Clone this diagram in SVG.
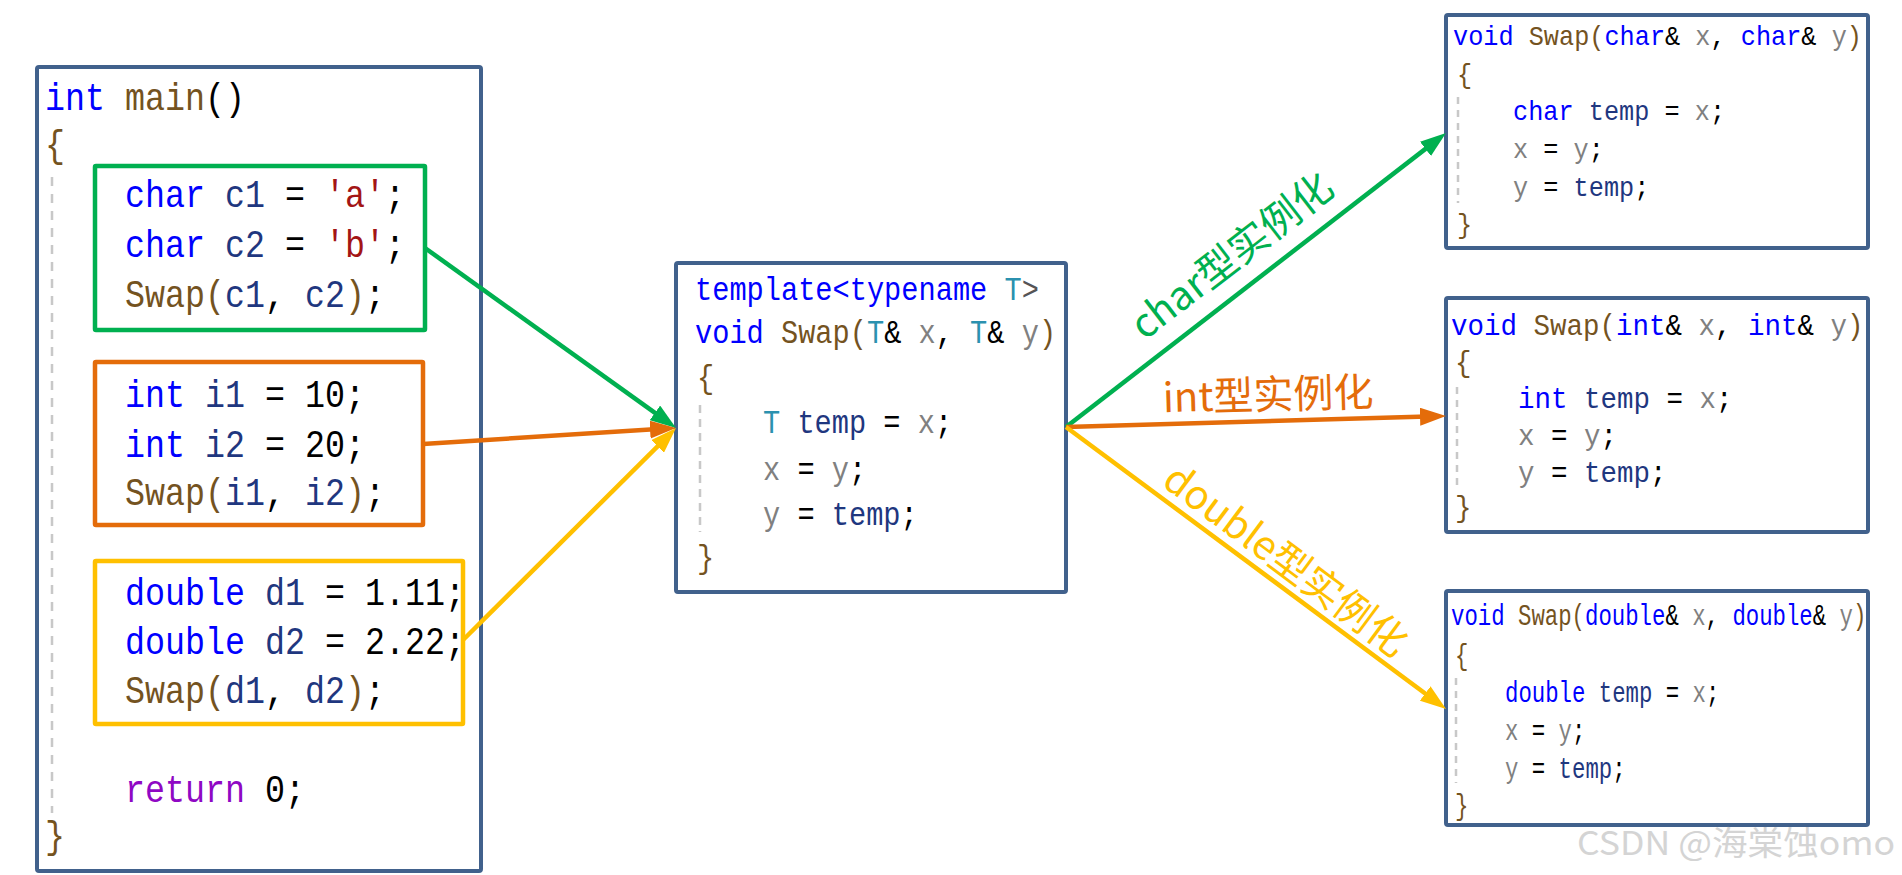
<svg xmlns="http://www.w3.org/2000/svg" width="1902" height="875" viewBox="0 0 1902 875">
<style>
.box{fill:#fff;stroke:#41618c;stroke-width:4}
.code{font-family:"Liberation Mono","DejaVu Sans Mono",monospace;fill:#000;white-space:pre}
.k{fill:#0000ff}
.f{fill:#74531f}
.v{fill:#1f377f}
.p{fill:#808080}
.t{fill:#2b91af}
.s{fill:#a31515}
.r{fill:#8f08c4}
.b{fill:#74531f}
.guide{stroke:#c8c8c8;stroke-width:2.5;fill:none}
.lbl{font-family:"Noto Sans CJK SC","Noto Sans",sans-serif;font-size:40px}
.m{font-size:38px}
.tp{font-size:33px}
.b1{font-size:27px}
.b2{font-size:29px}
.b3{font-size:30px}
</style>
<defs>
<marker id="ag" markerUnits="userSpaceOnUse" markerWidth="26" markerHeight="18" refX="16" refY="9" orient="auto"><path d="M0,0 L26,9 L0,18 z" fill="#00b050"/></marker>
<marker id="ao" markerUnits="userSpaceOnUse" markerWidth="26" markerHeight="18" refX="16" refY="9" orient="auto"><path d="M0,0 L26,9 L0,18 z" fill="#e46c0a"/></marker>
<marker id="ay" markerUnits="userSpaceOnUse" markerWidth="26" markerHeight="18" refX="16" refY="9" orient="auto"><path d="M0,0 L26,9 L0,18 z" fill="#ffc000"/></marker>
</defs>
<rect width="1902" height="875" fill="#fff"/>

<g id="main">
<rect class="box" x="37" y="67" width="444" height="804" rx="2"/>
<line class="guide" x1="52" y1="177" x2="52" y2="813" stroke-dasharray="9 8"/>
<g transform="scale(0.87719,1)">
<text class="code m" x="51.3" y="110"><tspan class="k">int</tspan> <tspan class="f">main</tspan>()</text>
<text class="code m b" x="51.3" y="157">{</text>
<text class="code m" x="142.5" y="802"><tspan class="r">return</tspan> 0;</text>
<text class="code m b" x="51.3" y="848">}</text>
</g>
</g>

<g id="char-block">
<rect x="95" y="166" width="330" height="164" fill="none" stroke="#00b050" stroke-width="4.5" rx="1"/>
<g transform="scale(0.87719,1)">
<text class="code m" x="142.5" y="207"><tspan class="k">char</tspan> <tspan class="v">c1</tspan> = <tspan class="s">'a'</tspan>;</text>
<text class="code m" x="142.5" y="257"><tspan class="k">char</tspan> <tspan class="v">c2</tspan> = <tspan class="s">'b'</tspan>;</text>
<text class="code m" x="142.5" y="307"><tspan class="f">Swap(</tspan><tspan class="v">c1</tspan>, <tspan class="v">c2</tspan><tspan class="f">)</tspan>;</text>
</g>
</g>

<g id="int-block">
<rect x="95" y="362" width="328" height="163" fill="none" stroke="#e46c0a" stroke-width="4.5" rx="1"/>
<g transform="scale(0.87719,1)">
<text class="code m" x="142.5" y="407"><tspan class="k">int</tspan> <tspan class="v">i1</tspan> = 10;</text>
<text class="code m" x="142.5" y="457"><tspan class="k">int</tspan> <tspan class="v">i2</tspan> = 20;</text>
<text class="code m" x="142.5" y="505"><tspan class="f">Swap(</tspan><tspan class="v">i1</tspan>, <tspan class="v">i2</tspan><tspan class="f">)</tspan>;</text>
</g>
</g>

<g id="double-block">
<rect x="95" y="561" width="368" height="163" fill="none" stroke="#ffc000" stroke-width="4.5" rx="1"/>
<g transform="scale(0.87719,1)">
<text class="code m" x="142.5" y="605"><tspan class="k">double</tspan> <tspan class="v">d1</tspan> = 1.11;</text>
<text class="code m" x="142.5" y="654"><tspan class="k">double</tspan> <tspan class="v">d2</tspan> = 2.22;</text>
<text class="code m" x="142.5" y="703"><tspan class="f">Swap(</tspan><tspan class="v">d1</tspan>, <tspan class="v">d2</tspan><tspan class="f">)</tspan>;</text>
</g>
</g>

<g id="template">
<rect class="box" x="676" y="263" width="390" height="329" rx="2"/>
<line class="guide" x1="700" y1="405" x2="700" y2="532" stroke-dasharray="8 6"/>
<g transform="scale(0.86869,1)">
<text class="code tp" x="800.06" y="300"><tspan class="k">template&lt;typename</tspan> <tspan class="t">T</tspan><tspan fill="#555">&gt;</tspan></text>
<text class="code tp" x="800.06" y="343"><tspan class="k">void</tspan> <tspan class="f">Swap(</tspan><tspan class="t">T</tspan>&amp; <tspan class="p">x</tspan>, <tspan class="t">T</tspan>&amp; <tspan class="p">y</tspan><tspan class="f">)</tspan></text>
<text class="code tp b" x="802.36" y="388">{</text>
<text class="code tp" x="878.33" y="433"><tspan class="t">T</tspan> <tspan class="v">temp</tspan> = <tspan class="p">x</tspan>;</text>
<text class="code tp" x="878.33" y="480"><tspan class="p">x</tspan> = <tspan class="p">y</tspan>;</text>
<text class="code tp" x="878.33" y="525"><tspan class="p">y</tspan> = <tspan class="v">temp</tspan>;</text>
<text class="code tp b" x="802.36" y="568">}</text>
</g>
</g>

<g id="swap-char">
<rect class="box" x="1446" y="15" width="422" height="233" rx="2"/>
<line class="guide" x1="1458" y1="97" x2="1458" y2="203" stroke-dasharray="7 6"/>
<g transform="scale(0.93519,1)">
<text class="code b1" x="1553.69" y="45"><tspan class="k">void</tspan> <tspan class="f">Swap(</tspan><tspan class="k">char</tspan>&amp; <tspan class="p">x</tspan>, <tspan class="k">char</tspan>&amp; <tspan class="p">y</tspan><tspan class="f">)</tspan></text>
<text class="code b1 b" x="1557.97" y="83">{</text>
<text class="code b1" x="1617.85" y="120"><tspan class="k">char</tspan> <tspan class="v">temp</tspan> = <tspan class="p">x</tspan>;</text>
<text class="code b1" x="1617.85" y="158"><tspan class="p">x</tspan> = <tspan class="p">y</tspan>;</text>
<text class="code b1" x="1617.85" y="196"><tspan class="p">y</tspan> = <tspan class="v">temp</tspan>;</text>
<text class="code b1 b" x="1557.97" y="233">}</text>
</g>
</g>

<g id="swap-int">
<rect class="box" x="1446" y="298" width="422" height="234" rx="2"/>
<line class="guide" x1="1457" y1="387" x2="1457" y2="487" stroke-dasharray="7 6"/>
<g transform="scale(0.94828,1)">
<text class="code b2" x="1530.14" y="335"><tspan class="k">void</tspan> <tspan class="f">Swap(</tspan><tspan class="k">int</tspan>&amp; <tspan class="p">x</tspan>, <tspan class="k">int</tspan>&amp; <tspan class="p">y</tspan><tspan class="f">)</tspan></text>
<text class="code b2 b" x="1534.36" y="372">{</text>
<text class="code b2" x="1600.79" y="408"><tspan class="k">int</tspan> <tspan class="v">temp</tspan> = <tspan class="p">x</tspan>;</text>
<text class="code b2" x="1600.79" y="445"><tspan class="p">x</tspan> = <tspan class="p">y</tspan>;</text>
<text class="code b2" x="1600.79" y="482"><tspan class="p">y</tspan> = <tspan class="v">temp</tspan>;</text>
<text class="code b2 b" x="1534.36" y="517">}</text>
</g>
</g>

<g id="swap-double">
<rect class="box" x="1446" y="591" width="422" height="234" rx="2"/>
<line class="guide" x1="1456" y1="678" x2="1456" y2="783" stroke-dasharray="7 6"/>
<g transform="scale(0.74444,1)">
<text class="code b3" x="1949.1" y="625"><tspan class="k">void</tspan> <tspan class="f">Swap(</tspan><tspan class="k">double</tspan>&amp; <tspan class="p">x</tspan>, <tspan class="k">double</tspan>&amp; <tspan class="p">y</tspan><tspan class="f">)</tspan></text>
<text class="code b3 b" x="1954.48" y="665">{</text>
<text class="code b3" x="2021.64" y="702"><tspan class="k">double</tspan> <tspan class="v">temp</tspan> = <tspan class="p">x</tspan>;</text>
<text class="code b3" x="2021.64" y="740"><tspan class="p">x</tspan> = <tspan class="p">y</tspan>;</text>
<text class="code b3" x="2021.64" y="778"><tspan class="p">y</tspan> = <tspan class="v">temp</tspan>;</text>
<text class="code b3 b" x="1954.48" y="815">}</text>
</g>
</g>

<g id="connectors" fill="none" stroke-width="4.5">
<line x1="425" y1="248" x2="667.9" y2="422.2" stroke="#00b050" marker-end="url(#ag)"/>
<line x1="423" y1="444" x2="666" y2="428.6" stroke="#e46c0a" marker-end="url(#ao)"/>
<line x1="463" y1="640" x2="668.9" y2="435.1" stroke="#ffc000" marker-end="url(#ay)"/>
<line x1="1066" y1="427" x2="1438.1" y2="139.1" stroke="#00b050" marker-end="url(#ag)"/>
<line x1="1066" y1="427" x2="1436" y2="416.3" stroke="#e46c0a" marker-end="url(#ao)"/>
<line x1="1066" y1="427" x2="1438" y2="703" stroke="#ffc000" marker-end="url(#ay)"/>
</g>

<g id="labels">
<text class="lbl" fill="#00b050" text-anchor="middle" transform="translate(1066,427) rotate(-37.7)" x="236" y="-20">char型实例化</text>
<text class="lbl" fill="#e46c0a" text-anchor="middle" transform="translate(1066,427) rotate(-1.66)" x="203" y="-12">int型实例化</text>
<text class="lbl" fill="#ffc000" text-anchor="middle" transform="translate(1066,427) rotate(36.6)" x="256" y="-10">double型实例化</text>
</g>

<text x="1577" y="855" font-family="Noto Sans CJK SC, Noto Sans, sans-serif" font-size="33" fill="#d4d4d4" textLength="318" lengthAdjust="spacingAndGlyphs">CSDN @海棠蚀omo</text>
</svg>
